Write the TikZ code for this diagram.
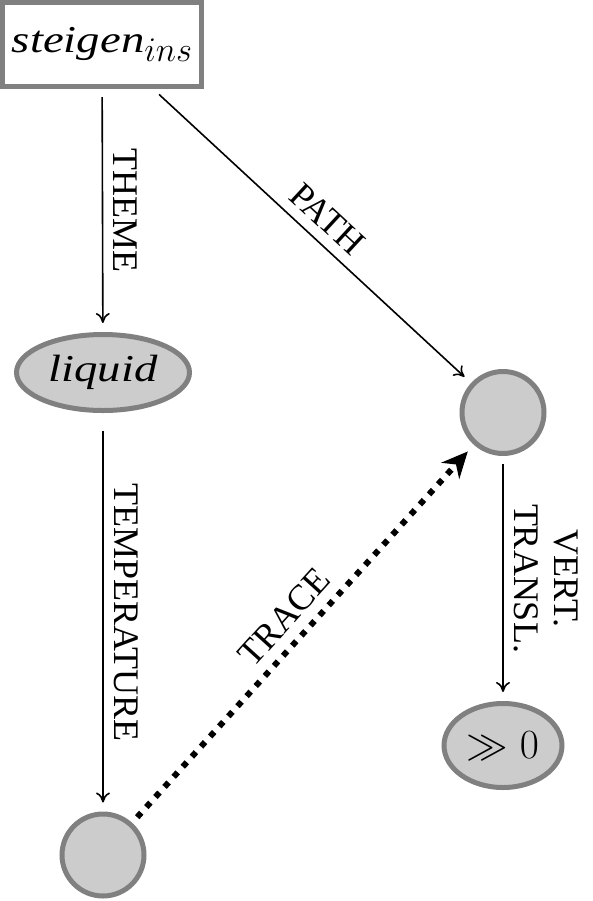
\documentclass[tikz,border=0pt]{standalone}
\usepackage[no-math]{fontspec}
\setmainfont{Liberation Serif}
\usepackage{graphicx}
\usepackage{tikz}
\usetikzlibrary{arrows.meta,shapes}
\newcommand{\wideword}[1]{\scalebox{1.23}[1]{\itshape #1}}
\newcommand{\subins}[1]{\raisebox{-4.5pt}{\fontsize{16}{16}\selectfont$#1$}}

\begin{document}
\begin{tikzpicture}[font=\fontsize{18}{20}\selectfont,
		framebox/.style={rectangle, draw=black!50, line width=2.5pt, fill=white, minimum width=99.5pt, minimum height=42pt, inner sep=0pt},
		oval/.style={ellipse, draw=black!50, line width=2.5pt, fill=black!20, inner sep=0pt},
		blank/.style={circle, draw=black!50, line width=2.5pt, fill=black!20, minimum size=41pt, inner sep=0pt},
		rel/.style={-{To[length=5pt,width=7pt]}, line width=0.8pt, shorten <=4pt, shorten >=4.5pt},
		lab/.style={midway, above, sloped, allow upside down, inner sep=5pt}]
		\useasboundingbox (0,0) rectangle (296.5pt,-450.5pt);

		\node[framebox, font=\fontsize{19}{22}\selectfont] (steigen) at (51pt,-22.25pt) {\wideword{steigen}\subins{ins}};
		\node[oval, minimum width=86.5pt, minimum height=38pt, font=\fontsize{19}{22}\selectfont] (liquid) at (51.5pt,-186.25pt) {\wideword{liquid}};
		\node[blank] (path) at (251.5pt,-206.25pt) {};
		\node[blank] (trace) at (51.5pt,-427.5pt) {};
		\node[oval, minimum width=59pt, minimum height=42pt, font=\fontsize{21}{24}\selectfont] (val) at (251.5pt,-372.75pt) {$\gg 0$};

		\draw[rel] (steigen) -- node[lab] {THEME} (liquid);
		\draw[rel] (steigen.-41) -- node[lab] {PATH} (path);
		\draw[rel, shorten <=8.75pt] (liquid) -- node[lab] {TEMPERATURE} (trace);
		\draw[rel] (path) -- node[lab, align=center] {VERT.\\TRANSL.} (val);
		\draw[-{Stealth[length=13pt,width=12pt]}, line width=3pt, dash pattern=on 3pt off 3.8pt, shorten <=3.75pt, shorten >=4.5pt]
			(trace) -- node[lab, solid] {TRACE} (path);
	\end{tikzpicture}
\end{document}
